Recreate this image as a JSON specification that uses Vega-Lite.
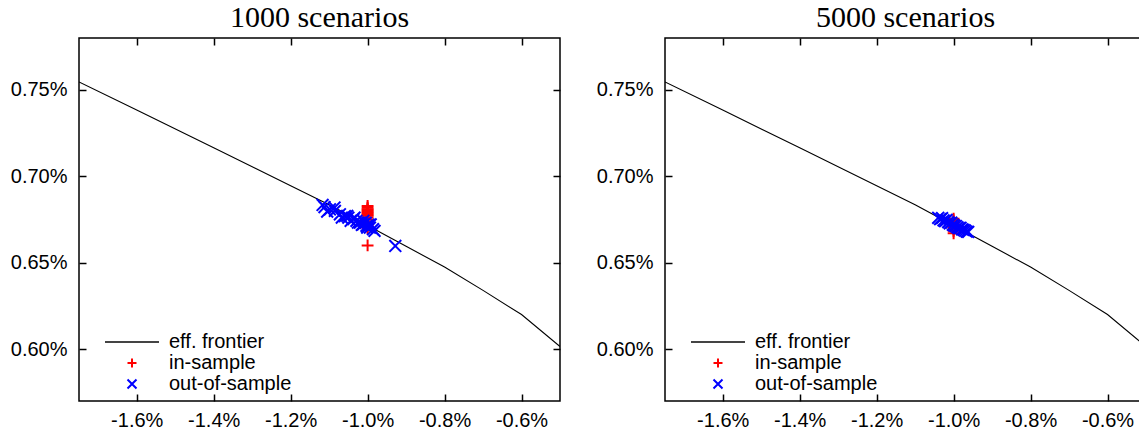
{
  "$schema": "https://vega.github.io/schema/vega-lite/v6.json",
  "padding": {"left": 9, "top": 2, "right": 0, "bottom": 0},
  "background": "white",
  "config": {
    "view": {"stroke": "black", "strokeWidth": 1.5},
    "font": "Liberation Sans",
    "axis": {"grid": false, "domain": false, "labelFont": "Liberation Sans", "labelFontSize": 20, "labelColor": "black", "tickColor": "black", "tickSize": -7, "tickWidth": 1.5, "tickOpacity": 1, "zindex": 1, "title": null},
    "title": {"font": "Liberation Serif", "fontSize": 30, "fontWeight": "normal", "color": "black", "offset": 4},
    "legend": {"orient": "none", "legendX": 43, "legendY": 294, "title": null, "labelFont": "Liberation Sans", "labelFontSize": 20, "labelColor": "black", "symbolStrokeWidth": 2, "symbolSize": 81, "labelOffset": 27, "rowPadding": 1, "padding": 0}
  },
  "datasets": {
    "frontier": [
      {"risk": -1.75, "ret": 0.7546}, {"risk": -1.6, "ret": 0.7383}, {"risk": -1.4, "ret": 0.7165},
      {"risk": -1.2, "ret": 0.6945}, {"risk": -1.1, "ret": 0.6835}, {"risk": -1.0, "ret": 0.6715},
      {"risk": -0.9, "ret": 0.6595}, {"risk": -0.8, "ret": 0.6475}, {"risk": -0.7, "ret": 0.634},
      {"risk": -0.6, "ret": 0.62}, {"risk": -0.5, "ret": 0.6015}
    ],
    "pts1000": [
      {"kind": "in-sample", "risk": -1.0, "ret": 0.6828},
      {"kind": "in-sample", "risk": -1.0, "ret": 0.6818},
      {"kind": "in-sample", "risk": -1.0, "ret": 0.681},
      {"kind": "in-sample", "risk": -1.0, "ret": 0.6803},
      {"kind": "in-sample", "risk": -1.0, "ret": 0.6797},
      {"kind": "in-sample", "risk": -1.0, "ret": 0.679},
      {"kind": "in-sample", "risk": -1.0, "ret": 0.6784},
      {"kind": "in-sample", "risk": -1.0, "ret": 0.6778},
      {"kind": "in-sample", "risk": -1.0, "ret": 0.6771},
      {"kind": "in-sample", "risk": -1.0, "ret": 0.6762},
      {"kind": "in-sample", "risk": -1.0, "ret": 0.675},
      {"kind": "in-sample", "risk": -1.0, "ret": 0.6738},
      {"kind": "in-sample", "risk": -1.0, "ret": 0.6725},
      {"kind": "in-sample", "risk": -1.0, "ret": 0.6712},
      {"kind": "in-sample", "risk": -1.0, "ret": 0.67},
      {"kind": "in-sample", "risk": -1.0, "ret": 0.66},
      {"kind": "out-of-sample", "risk": -1.117, "ret": 0.6834},
      {"kind": "out-of-sample", "risk": -1.112, "ret": 0.6822},
      {"kind": "out-of-sample", "risk": -1.105, "ret": 0.6796},
      {"kind": "out-of-sample", "risk": -1.098, "ret": 0.6809},
      {"kind": "out-of-sample", "risk": -1.086, "ret": 0.6819},
      {"kind": "out-of-sample", "risk": -1.085, "ret": 0.68},
      {"kind": "out-of-sample", "risk": -1.072, "ret": 0.678},
      {"kind": "out-of-sample", "risk": -1.067, "ret": 0.6761},
      {"kind": "out-of-sample", "risk": -1.059, "ret": 0.677},
      {"kind": "out-of-sample", "risk": -1.053, "ret": 0.6771},
      {"kind": "out-of-sample", "risk": -1.05, "ret": 0.6761},
      {"kind": "out-of-sample", "risk": -1.044, "ret": 0.6742},
      {"kind": "out-of-sample", "risk": -1.037, "ret": 0.6752},
      {"kind": "out-of-sample", "risk": -1.034, "ret": 0.6761},
      {"kind": "out-of-sample", "risk": -1.029, "ret": 0.6742},
      {"kind": "out-of-sample", "risk": -1.025, "ret": 0.6732},
      {"kind": "out-of-sample", "risk": -1.02, "ret": 0.6732},
      {"kind": "out-of-sample", "risk": -1.015, "ret": 0.6719},
      {"kind": "out-of-sample", "risk": -1.012, "ret": 0.6722},
      {"kind": "out-of-sample", "risk": -1.011, "ret": 0.6742},
      {"kind": "out-of-sample", "risk": -1.005, "ret": 0.673},
      {"kind": "out-of-sample", "risk": -1.003, "ret": 0.6713},
      {"kind": "out-of-sample", "risk": -1.001, "ret": 0.6703},
      {"kind": "out-of-sample", "risk": -0.997, "ret": 0.672},
      {"kind": "out-of-sample", "risk": -0.994, "ret": 0.6703},
      {"kind": "out-of-sample", "risk": -0.992, "ret": 0.6722},
      {"kind": "out-of-sample", "risk": -0.986, "ret": 0.6694},
      {"kind": "out-of-sample", "risk": -0.982, "ret": 0.6684},
      {"kind": "out-of-sample", "risk": -0.928, "ret": 0.6597}
    ],
    "pts5000": [
      {"kind": "in-sample", "risk": -1.0, "ret": 0.6755},
      {"kind": "in-sample", "risk": -1.0, "ret": 0.6745},
      {"kind": "in-sample", "risk": -1.0, "ret": 0.6735},
      {"kind": "in-sample", "risk": -1.0, "ret": 0.6725},
      {"kind": "in-sample", "risk": -1.0, "ret": 0.6715},
      {"kind": "in-sample", "risk": -1.0, "ret": 0.6705},
      {"kind": "in-sample", "risk": -1.0, "ret": 0.6695},
      {"kind": "in-sample", "risk": -1.0, "ret": 0.6685},
      {"kind": "in-sample", "risk": -1.0, "ret": 0.667},
      {"kind": "out-of-sample", "risk": -1.04, "ret": 0.676},
      {"kind": "out-of-sample", "risk": -1.035, "ret": 0.6752},
      {"kind": "out-of-sample", "risk": -1.03, "ret": 0.6758},
      {"kind": "out-of-sample", "risk": -1.026, "ret": 0.6745},
      {"kind": "out-of-sample", "risk": -1.022, "ret": 0.674},
      {"kind": "out-of-sample", "risk": -1.018, "ret": 0.6748},
      {"kind": "out-of-sample", "risk": -1.014, "ret": 0.6735},
      {"kind": "out-of-sample", "risk": -1.01, "ret": 0.6728},
      {"kind": "out-of-sample", "risk": -1.006, "ret": 0.6732},
      {"kind": "out-of-sample", "risk": -1.002, "ret": 0.672},
      {"kind": "out-of-sample", "risk": -0.998, "ret": 0.6715},
      {"kind": "out-of-sample", "risk": -0.994, "ret": 0.6712},
      {"kind": "out-of-sample", "risk": -0.99, "ret": 0.6705},
      {"kind": "out-of-sample", "risk": -0.986, "ret": 0.67},
      {"kind": "out-of-sample", "risk": -0.982, "ret": 0.6702},
      {"kind": "out-of-sample", "risk": -0.978, "ret": 0.6693},
      {"kind": "out-of-sample", "risk": -0.974, "ret": 0.669},
      {"kind": "out-of-sample", "risk": -0.97, "ret": 0.6685},
      {"kind": "out-of-sample", "risk": -0.966, "ret": 0.668},
      {"kind": "out-of-sample", "risk": -0.962, "ret": 0.6678}
    ]
  },
  "spacing": 33,
  "resolve": {"scale": {"color": "independent", "shape": "independent"}, "legend": {"color": "independent", "shape": "independent"}},
  "hconcat": [
    {
      "title": "1000 scenarios",
      "width": 481,
      "height": 363,
      "resolve": {"axis": {"x": "independent", "y": "independent"}},
      "layer": [
        {
          "data": {"name": "frontier"},
          "mark": {"type": "line", "color": "black", "strokeWidth": 1.1, "clip": true},
          "encoding": {
            "x": {"field": "risk", "type": "quantitative", "scale": {"domain": [-1.75, -0.5], "nice": false, "zero": false},
                  "axis": {"orient": "bottom", "values": [-1.6, -1.4, -1.2, -1.0, -0.8, -0.6], "labelPadding": 16, "labelExpr": "(datum.value < 0 ? '-' : '') + format(abs(datum.value), '.1f') + '%'"}},
            "y": {"field": "ret", "type": "quantitative", "scale": {"domain": [0.57, 0.78], "nice": false, "zero": false},
                  "axis": {"orient": "left", "values": [0.6, 0.65, 0.7, 0.75], "labelPadding": 19, "labelExpr": "format(datum.value, '.2f') + '%'"}}
          }
        },
        {
          "data": {"name": "frontier"},
          "mark": {"type": "line", "strokeOpacity": 0},
          "encoding": {
            "x": {"field": "risk", "type": "quantitative", "axis": {"orient": "top", "values": [-1.6, -1.4, -1.2, -1.0, -0.8, -0.6], "labels": false}},
            "y": {"field": "ret", "type": "quantitative", "axis": {"orient": "right", "values": [0.6, 0.65, 0.7, 0.75], "labels": false}}
          }
        },
        {
          "data": {"name": "pts1000"},
          "mark": {"type": "point", "filled": false, "strokeWidth": 2, "size": 140, "opacity": 1},
          "encoding": {
            "x": {"field": "risk", "type": "quantitative", "axis": null},
            "y": {"field": "ret", "type": "quantitative", "axis": null},
            "color": {"field": "kind", "type": "nominal", "scale": {"domain": ["eff. frontier", "in-sample", "out-of-sample"], "range": ["#444444", "#ff0000", "#0000ff"]}},
            "shape": {"field": "kind", "type": "nominal", "scale": {"domain": ["eff. frontier", "in-sample", "out-of-sample"], "range": ["M-6,0H6", "M-1,0H1M0,-1V1", "M-1,-1L1,1M-1,1L1,-1"]}},
            "order": {"field": "kind", "type": "nominal"}
          }
        }
      ]
    },
    {
      "title": "5000 scenarios",
      "width": 481,
      "height": 363,
      "resolve": {"axis": {"x": "independent", "y": "independent"}},
      "layer": [
        {
          "data": {"name": "frontier"},
          "mark": {"type": "line", "color": "black", "strokeWidth": 1.1, "clip": true},
          "encoding": {
            "x": {"field": "risk", "type": "quantitative", "scale": {"domain": [-1.75, -0.5], "nice": false, "zero": false},
                  "axis": {"orient": "bottom", "values": [-1.6, -1.4, -1.2, -1.0, -0.8, -0.6], "labelPadding": 16, "labelExpr": "(datum.value < 0 ? '-' : '') + format(abs(datum.value), '.1f') + '%'"}},
            "y": {"field": "ret", "type": "quantitative", "scale": {"domain": [0.57, 0.78], "nice": false, "zero": false},
                  "axis": {"orient": "left", "values": [0.6, 0.65, 0.7, 0.75], "labelPadding": 19, "labelExpr": "format(datum.value, '.2f') + '%'"}}
          }
        },
        {
          "data": {"name": "frontier"},
          "mark": {"type": "line", "strokeOpacity": 0},
          "encoding": {
            "x": {"field": "risk", "type": "quantitative", "axis": {"orient": "top", "values": [-1.6, -1.4, -1.2, -1.0, -0.8, -0.6], "labels": false}},
            "y": {"field": "ret", "type": "quantitative", "axis": {"orient": "right", "values": [0.6, 0.65, 0.7, 0.75], "labels": false}}
          }
        },
        {
          "data": {"name": "pts5000"},
          "mark": {"type": "point", "filled": false, "strokeWidth": 2, "size": 140, "opacity": 1},
          "encoding": {
            "x": {"field": "risk", "type": "quantitative", "axis": null},
            "y": {"field": "ret", "type": "quantitative", "axis": null},
            "color": {"field": "kind", "type": "nominal", "scale": {"domain": ["eff. frontier", "in-sample", "out-of-sample"], "range": ["#444444", "#ff0000", "#0000ff"]}},
            "shape": {"field": "kind", "type": "nominal", "scale": {"domain": ["eff. frontier", "in-sample", "out-of-sample"], "range": ["M-6,0H6", "M-1,0H1M0,-1V1", "M-1,-1L1,1M-1,1L1,-1"]}},
            "order": {"field": "kind", "type": "nominal"}
          }
        }
      ]
    }
  ]
}
